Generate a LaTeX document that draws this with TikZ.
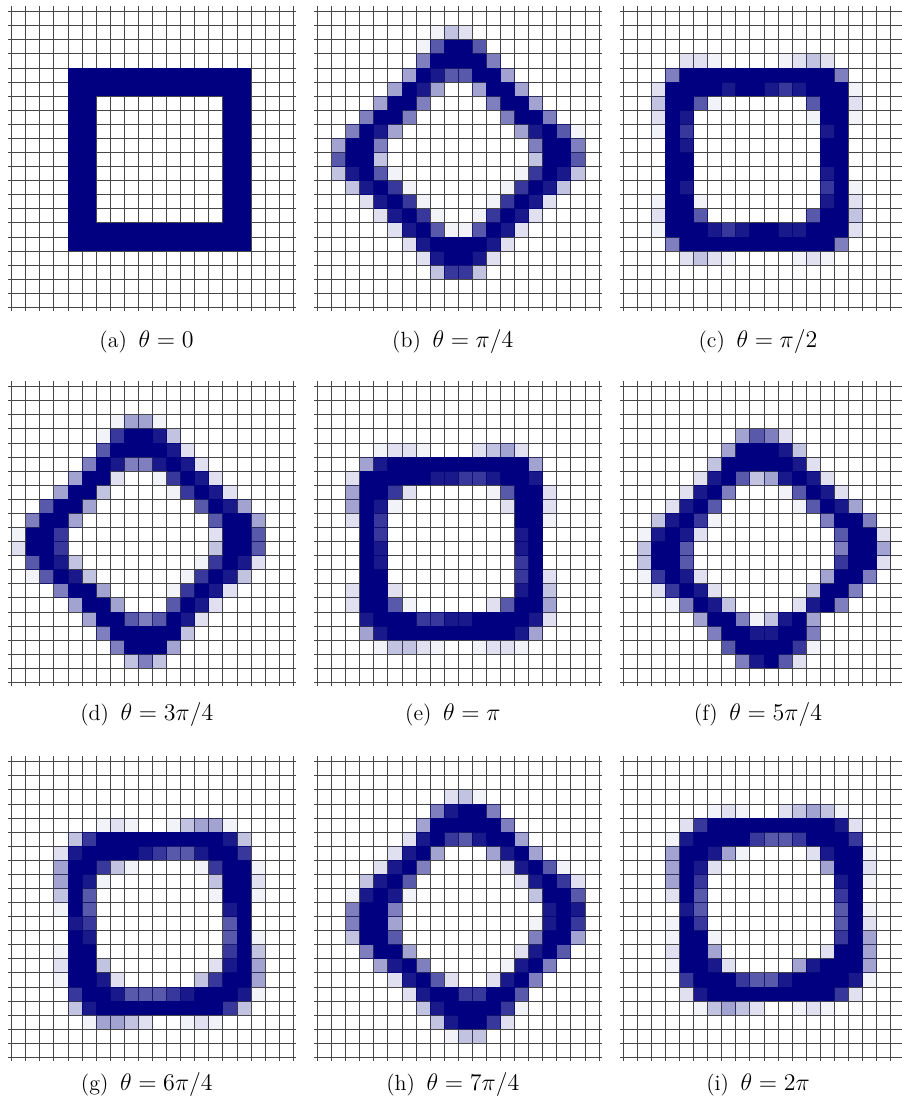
\documentclass[tikz,border=0pt]{standalone}
\usepackage{tikz}
\definecolor{pixblue}{RGB}{0,0,128}

% cell size of one pixel, in picture units (1 unit = one pixel of the figure)
\newcommand\cellsz{14.08}

% one row of pixels: #1 = row index, #2 = string of intensity digits 0..9
\newcommand\pixrow[2]{%
  \def\pixcol{0}\edef\pixrowidx{#1}\edef\pixtmp{#2}%
  \expandafter\pixnext\pixtmp\relax}
\def\pixnext#1{%
  \ifx#1\relax\let\pixgo\relax
  \else\def\pixgo{\pixput{#1}\pixnext}\fi
  \pixgo}
\newcommand\pixput[1]{%
  \ifnum#1>0\relax
    \pgfmathsetmacro\pixalpha{{0,0.05,0.12,0.24,0.36,0.5,0.65,0.78,0.9,1}[#1]}%
    \fill[pix=\pixalpha] (\pixcol*\cellsz, \pixrowidx*\cellsz) rectangle ++(\cellsz,\cellsz);
  \fi
  \pgfmathtruncatemacro\pixcol{\pixcol+1}}

% the 20 x 21 grid of one panel
\newcommand\pixgrid{%
  \foreach \k in {0,...,20}
    \draw[gridline] (\k*\cellsz, -5.7) -- (\k*\cellsz, 21*\cellsz+3.3);
  \foreach \k in {0,...,21}
    \draw[gridline] (-3.4, \k*\cellsz) -- (20*\cellsz+2.7, \k*\cellsz);}

% caption text: (letter) theta = value
\newcommand\thetalabel[2]{(#1)\hspace{5.8pt}{\fontsize{12.6}{14}\selectfont$\theta = #2$}}

\begin{document}
\begin{tikzpicture}[x=0.5pt, y=-0.5pt,
    gridline/.style={line width=0.45pt, black!72},
    pix/.style={fill=pixblue, fill opacity=#1},
    sublabel/.style={anchor=base, inner sep=0pt, font=\fontsize{11}{13}\selectfont},
]
    \useasboundingbox (0,0) rectangle (901,1108);

    % === (a) theta = 0 ===
    \begin{scope}[shift={(11.7,11.7)}]
        \pixgrid
        \foreach \i/\r in {4/00009999999999999000, 5/00009999999999999000,
            6/00009900000000099000, 7/00009900000000099000, 8/00009900000000099000,
            9/00009900000000099000, 10/00009900000000099000, 11/00009900000000099000,
            12/00009900000000099000, 13/00009900000000099000, 14/00009900000000099000,
            15/00009999999999999000, 16/00009999999999999000}
            {\pixrow{\i}{\r}}
    \end{scope}
    \node[sublabel] (capa) at (146.5,347.5) {\thetalabel{a}{0}};

    % === (b) theta = pi/4 ===
    \begin{scope}[shift={(317.5,11.7)}]
        \pixgrid
        \foreach \i/\r in {1/00000000132000000000, 2/00000001699600000000,
            3/00000005999950000000, 4/00000049866994000000, 5/00000498400499400000,
            6/00004995000059940000, 7/00059950000005995000, 8/00598400000000489610,
            9/04995000000000059950, 10/06993000000000039960, 11/03896100000000179830,
            12/00389710000001798300, 13/00028971000017982000, 14/00002897100179820000,
            15/00000289611698200000, 16/00000028999982000000, 17/00000002899820000000,
            18/00000000377300000000}
            {\pixrow{\i}{\r}}
    \end{scope}
    \node[sublabel] (capb) at (452.8,347.5) {\thetalabel{b}{\pi/4}};

    % === (c) theta = pi/2 ===
    \begin{scope}[shift={(623.2,11.7)}]
        \pixgrid
        \foreach \i/\r in {3/00002210000123200000, 4/00059999999999950000,
            5/00299998998789991000, 6/00399610000006992000, 7/00298000000001991000,
            8/00197000000000890000, 9/00098000000000990000, 10/00099000000000990000,
            11/00099000000000890000, 12/00098000000000791000, 13/00199100000000892000,
            14/00299600000006993000, 15/00199987899889992000, 16/00059999999999950000,
            17/00002321000012100000}
            {\pixrow{\i}{\r}}
    \end{scope}
    \node[sublabel] (capc) at (758.0,347.5) {\thetalabel{c}{\pi/2}};

    % === (d) theta = 3pi/4 ===
    \begin{scope}[shift={(11.7,386.7)}]
        \pixgrid
        \foreach \i/\r in {2/00000001441000000000, 3/00000017998300000000,
            4/00000069999820000000, 5/00000598558982000000, 6/00004992001798200000,
            7/00049930000179820000, 8/00699400000006984000, 9/05994000000000699400,
            10/19970000000000299600, 11/29970000000000399600, 12/06983000000001798200,
            13/01698300000017983000, 14/00059940000179820000, 15/00004994000698200000,
            16/00000499656982000000, 17/00000059999930000000, 18/00000005999400000000,
            19/00000000353000000000}
            {\pixrow{\i}{\r}}
    \end{scope}
    \node[sublabel] (capd) at (146.8,720.5) {\thetalabel{d}{3\pi/4}};

    % === (e) theta = pi ===
    \begin{scope}[shift={(317.5,386.7)}]
        \pixgrid
        \foreach \i/\r in {4/00001221000234200000, 5/00048999999999940000,
            6/00299999887789980000, 7/00499720000016992000, 8/00498100000002992000,
            9/00297000000000991000, 10/00097000000000890000, 11/00098000000000890000,
            12/00098000000000790000, 13/00099000000000792000, 14/00299200000000893000,
            15/00299610000026994000, 16/00089997788999982000, 17/00048999999999840000,
            18/00001332100122100000}
            {\pixrow{\i}{\r}}
    \end{scope}
    \node[sublabel] (cape) at (452.8,720.5) {\thetalabel{e}{\pi}};

    % === (f) theta = 5pi/4 ===
    \begin{scope}[shift={(623.2,386.7)}]
        \pixgrid
        \foreach \i/\r in {3/00000000465200000000, 4/00000004999830000000,
            5/00000039999982000000, 6/00000289634898200000, 7/00002895000169820000,
            8/00028960000016984000, 9/00389710000000599500, 10/01898200000000069920,
            11/03996000000000059940, 12/03996000000000079920, 13/01798200000000499500,
            14/00279820000003995000, 15/00015983000028950000, 16/00000499513894000000,
            17/00000059988995000000, 18/00000006999971000000, 19/00000000589620000000}
            {\pixrow{\i}{\r}}
    \end{scope}
    \node[sublabel] (capf) at (758.0,720.5) {\thetalabel{f}{5\pi/4}};

    % === (g) theta = 6pi/4 ===
    \begin{scope}[shift={(11.7,761.7)}]
        \pixgrid
        \foreach \i/\r in {4/00000012100134410000, 5/00003799999999983000,
            6/00028999987668997000, 7/00049973100001799100, 8/00049810000000399200,
            9/00039600000000199100, 10/00019600000000089000, 11/00008700000000069000,
            12/00009800000000069100, 13/00019900000000079300, 14/00029930000000289400,
            15/00019982000003799400, 16/00007998666789998100, 17/00003899999999973000,
            18/00000144320012100000}
            {\pixrow{\i}{\r}}
    \end{scope}
    \node[sublabel] (capg) at (146.8,1090) {\thetalabel{g}{6\pi/4}};

    % === (h) theta = 7pi/4 ===
    \begin{scope}[shift={(317.5,761.7)}]
        \pixgrid
        \foreach \i/\r in {2/00000000023100000000, 3/00000000589950000000,
            4/00000004999995000000, 5/00000028976899400000, 6/00000289400048940000,
            7/00002895000002896100, 8/00038960000000289720, 9/00189810000000039960,
            10/00599500000000008980, 11/00599400000000018970, 12/00399600000000059940,
            13/00059940000000289600, 14/00004895000001895000, 15/00000289620028950000,
            16/00000028997799600000, 17/00000003899997100000, 18/00000000389972000000,
            19/00000000013300000000}
            {\pixrow{\i}{\r}}
    \end{scope}
    \node[sublabel] (caph) at (452.8,1090) {\thetalabel{h}{7\pi/4}};

    % === (i) theta = 2pi ===
    \begin{scope}[shift={(623.2,761.7)}]
        \pixgrid
        \foreach \i/\r in {3/00000012100234310000, 4/00002799999999982000,
            5/00018999976679997000, 6/00049984100002899100, 7/00049820000000499200,
            8/00049700000000089100, 9/00029600000000079000, 10/00008600000000069100,
            11/00019700000000069200, 12/00019910000000079400, 13/00029940000000299400,
            14/00019982000048999400, 15/00007999766899998100, 16/00002899999999972000,
            17/00000134320012100000}
            {\pixrow{\i}{\r}}
    \end{scope}
    \node[sublabel] (capi) at (758.0,1090) {\thetalabel{i}{2\pi}};
\end{tikzpicture}
\end{document}
